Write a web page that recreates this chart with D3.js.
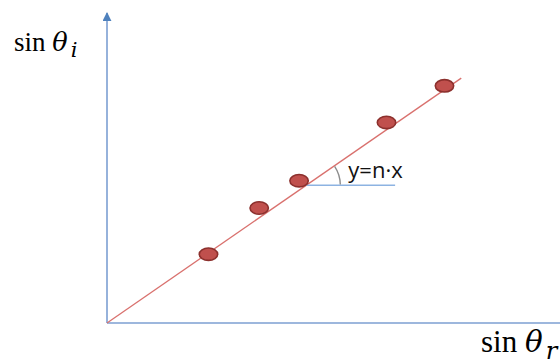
<!DOCTYPE html>
<html>
<head>
<meta charset="utf-8">
<script src="https://cdn.jsdelivr.net/npm/d3@7"></script>
<style>
  html, body { margin: 0; padding: 0; background: #fff; overflow: hidden; }
  svg { display: block; }
</style>
</head>
<body>
<script>
// Measured pairs (sin θr, sin θi)
const sinR = [0.224, 0.336, 0.424, 0.617, 0.745];
const sinI = [0.222, 0.371, 0.459, 0.647, 0.765];
// Fitted slope y = n·x and extent of the drawn fit line
const slopeN = [1.01];
const fitExtent = [0, 0.782];
// Reference horizontal for the angle marker
const horizontal = [0.440, 0.636];
const fitLabel = ["y=n·x"];
const axisLabels = ["sin θ", "i", "r"];

const W = 560, H = 359;
const svg = d3.select("body").append("svg").attr("width", W).attr("height", H);

const x = d3.scaleLinear().domain([0, 1]).range([107, 560]);
const y = d3.scaleLinear().domain([0, 1]).range([323, 13]);

const axisColor = "#7c9fd2";

// arrow head for the vertical axis
svg.append("defs").append("marker")
  .attr("id", "arrow").attr("viewBox", "0 0 10 10")
  .attr("refX", 9).attr("refY", 5)
  .attr("markerWidth", 9).attr("markerHeight", 9)
  .attr("markerUnits", "userSpaceOnUse")
  .attr("orient", "auto")
  .append("path").attr("d", "M0,0 L10,5 L0,10 Z").attr("fill", "#4f81bd");

// axes
svg.append("line")
  .attr("x1", x(0)).attr("y1", y(0)).attr("x2", x(1)).attr("y2", y(0))
  .attr("stroke", axisColor).attr("stroke-width", 1.6);
svg.append("line")
  .attr("x1", x(0)).attr("y1", y(0)).attr("x2", x(0)).attr("y2", y(1))
  .attr("stroke", axisColor).attr("stroke-width", 1.6)
  .attr("marker-end", "url(#arrow)");

// fit line
const n = slopeN[0];
svg.append("line")
  .attr("x1", x(fitExtent[0])).attr("y1", y(n * fitExtent[0]))
  .attr("x2", x(fitExtent[1])).attr("y2", y(n * fitExtent[1]))
  .attr("stroke", "#d9716e").attr("stroke-width", 1.3);

// horizontal reference for the angle
const hy = n * horizontal[0];
svg.append("line")
  .attr("x1", x(horizontal[0])).attr("y1", y(hy))
  .attr("x2", x(horizontal[1])).attr("y2", y(hy))
  .attr("stroke", "#8db3e2").attr("stroke-width", 1.6);

// angle arc between the horizontal and the fit line
const cx = x(horizontal[0]), cy = y(hy);
const ang = Math.atan((y(0) - y(n)) / (x(1) - x(0)));
const r = 34;
const arcPath = d3.path();
arcPath.arc(cx, cy, r, -ang * 0.97, -0.02, false);
svg.append("path").attr("d", arcPath.toString())
  .attr("fill", "none").attr("stroke", "#8c8c8c").attr("stroke-width", 1.4);

svg.append("text")
  .attr("x", cx + 42).attr("y", cy - 7)
  .attr("font-family", "'Open Sans', 'Liberation Sans', sans-serif")
  .attr("font-size", 22).attr("fill", "#111")
  .text(fitLabel[0]);

// data points
svg.selectAll("ellipse.pt").data(sinR.map((v, i) => [v, sinI[i]]))
  .enter().append("ellipse").attr("class", "pt")
  .attr("cx", d => x(d[0])).attr("cy", d => y(d[1]))
  .attr("rx", 9.2).attr("ry", 6.2)
  .attr("fill", "#c0504d").attr("stroke", "#8c302d").attr("stroke-width", 1.6);

// axis labels
const serif = "'Liberation Serif', 'DejaVu Serif', serif";
function mathLabel(px, py, size, sub) {
  const t = svg.append("text").attr("x", px).attr("y", py)
    .attr("font-family", serif).attr("font-size", size).attr("fill", "#000");
  t.append("tspan").text("sin ");
  t.append("tspan").attr("font-family", "'DejaVu Serif', serif")
    .attr("font-style", "italic").attr("font-size", size * 0.95).text("θ");
  t.append("tspan").attr("font-family", "'DejaVu Serif', serif")
    .attr("font-style", "italic").attr("font-size", size * 0.78)
    .attr("dx", 3).attr("dy", size * 0.24).text(sub);
}
mathLabel(14, 51, 27, axisLabels[1]);
mathLabel(481, 352, 31, axisLabels[2]);
</script>
</body>
</html>
